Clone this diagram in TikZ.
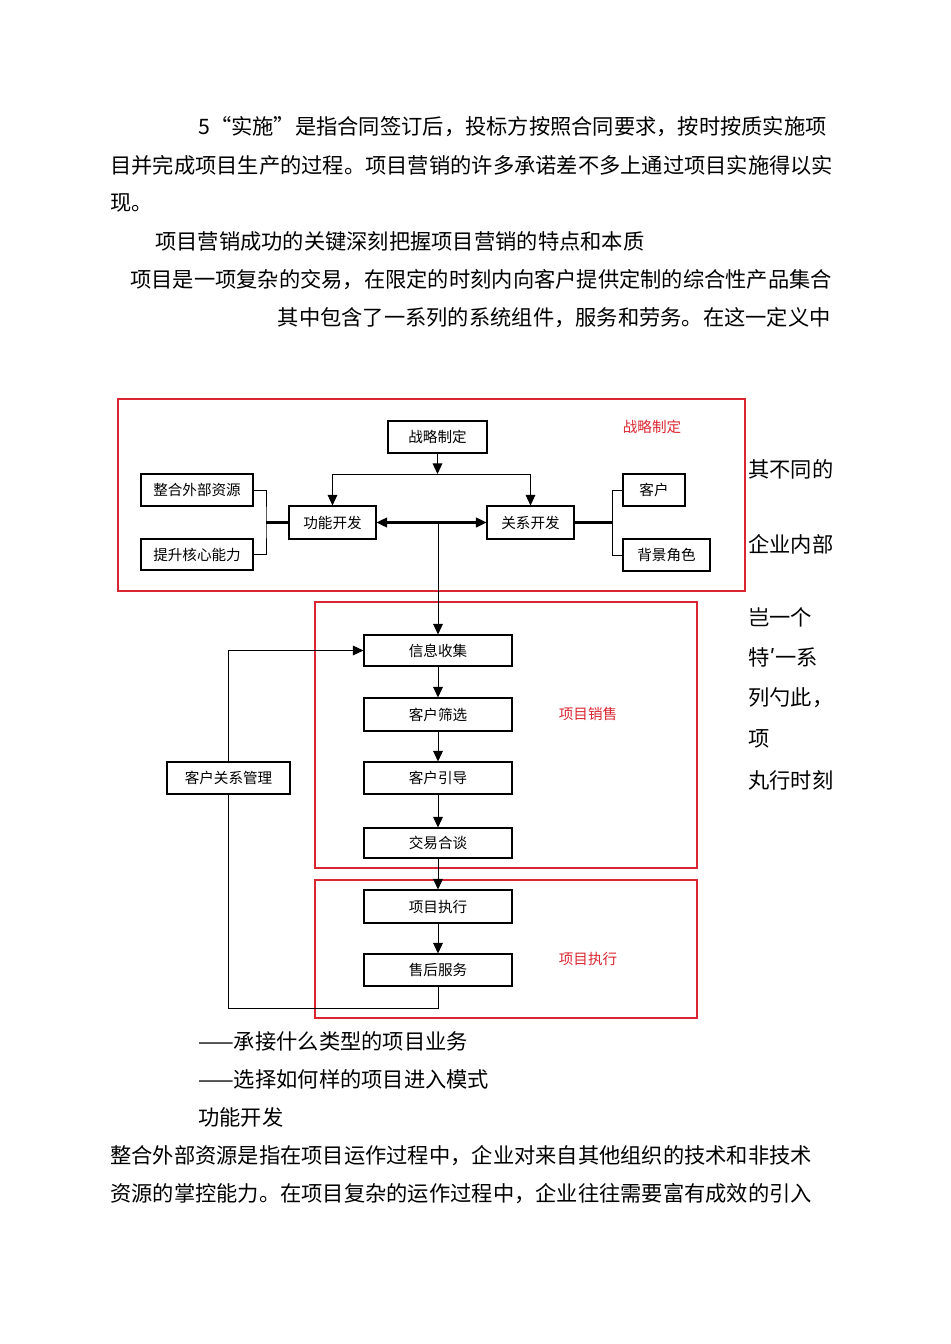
\documentclass[tikz,border=0pt]{standalone}
\usepackage{fontspec}
\setmainfont{Noto Sans CJK SC}
\newfontfamily\tickfont{DejaVu Sans}
\usetikzlibrary{arrows.meta}
\usetikzlibrary{shadows}
\newcommand*{\px}{0.02cm}
\definecolor{framered}{RGB}{218,38,48}
\tikzset{
    body/.style={anchor=west, inner sep=0pt, font=\fontsize{12.1}{14}\selectfont},
    stepbox/.style 2 args={draw, line width=0.6pt, fill=white, inner sep=0pt,
        minimum width=#1*\px, minimum height=#2*\px,
        drop shadow={shadow xshift=0.5pt, shadow yshift=-0.5pt, fill=black, opacity=1},
        font=\fontsize{8.3}{10}\selectfont},
    frame/.style={draw=framered, line width=0.6pt},
    tag/.style={text=framered, inner sep=0pt, font=\fontsize{8.3}{10}\selectfont},
    link/.style={line width=0.5pt},
    flow/.style={line width=0.5pt, -{Triangle[length=6pt,width=5.5pt]}},
}

\begin{document}
\begin{tikzpicture}[x=\px, y=-\px]
    \useasboundingbox (0,0) rectangle (950,1344);
    % text above
    \node [body] (p1) at (198,127) {5“实施”是指合同签订后，投标方按照合同要求，按时按质实施项};
    \node [body] (p2) at (110,165) {目并完成项目生产的过程。项目营销的许多承诺差不多上通过项目实施得以实};
    \node [body] (p3) at (110,203) {现。};
    \node [body] (p4) at (155,241) {项目营销成功的关键深刻把握项目营销的特点和本质};
    \node [body] (p5) at (130,280) {项目是一项复杂的交易，在限定的时刻内向客户提供定制的综合性产品集合};
    \node [body, anchor=east] (p6) at (831,318) {其中包含了一系列的系统组件，服务和劳务。在这一定义中};
    % red frames
    \draw [frame] (118,399) rectangle (745,591);
    \draw [frame] (315,602) rectangle (697,868);
    \draw [frame] (315,880) rectangle (697,1018);
    \node [tag] (tag1) at (652,427) {战略制定};
    \node [tag] (tag2) at (588,714) {项目销售};
    \node [tag] (tag3) at (588,959) {项目执行};
    % strategy part
    \node [stepbox={99}{32}]  (zhanlue)  at (437.5,437) {战略制定};
    \node [stepbox={87}{33}]  (gongneng) at (332.5,522.5) {功能开发};
    \node [stepbox={87}{33}]  (guanxi)   at (530.5,522.5) {关系开发};
    \node [stepbox={112}{32}] (zhenghe)  at (197,490) {整合外部资源};
    \node [stepbox={112}{31}] (tisheng)  at (197,554.5) {提升核心能力};
    \node [stepbox={62}{32}]  (kehu)     at (654,490) {客户};
    \node [stepbox={87}{32}]  (beijing)  at (666.5,555) {背景角色};
    \coordinate (fork) at (437.5,474);
    \coordinate (lj) at (266,522.5);
    \coordinate (rj) at (612,522.5);
    \draw [flow] (zhanlue.south) -- (fork);
    \draw [link] (gongneng.north |- fork) -- (guanxi.north |- fork);
    \draw [flow] (gongneng.north |- fork) -- (gongneng.north);
    \draw [flow] (guanxi.north |- fork) -- (guanxi.north);
    \draw [link] (zhenghe.east) -| (lj) |- (tisheng.east);
    \draw [link] (kehu.west) -| (rj) |- (beijing.west);
    \draw [line width=1.2pt] (lj) -- (gongneng.west);
    \draw [line width=1.2pt] (guanxi.east) -- (rj);
    \draw [line width=1.2pt, {Triangle[length=6pt,width=5.5pt]}-{Triangle[length=6pt,width=5.5pt]}] (gongneng.east) -- (guanxi.west);
    % sales and execution
    \node [stepbox={148}{31}] (xinxi)    at (438,650.5) {信息收集};
    \node [stepbox={148}{33}] (shaixuan) at (438,714.5) {客户筛选};
    \node [stepbox={148}{32}] (yindao)   at (438,778) {客户引导};
    \node [stepbox={148}{30}] (tanpan)   at (438,843) {交易合谈};
    \node [stepbox={148}{33}] (zhixing)  at (438,906.5) {项目执行};
    \node [stepbox={148}{32}] (shouhou)  at (438,970) {售后服务};
    \node [stepbox={123}{32}] (crm)      at (228.5,778) {客户关系管理};
    \coordinate (hub) at (xinxi.north |- gongneng.east);
    \coordinate (loopb) at (438,1008);
    \draw [flow] (hub) -- (xinxi.north);
    \draw [flow] (xinxi.south) -- (shaixuan.north);
    \draw [flow] (shaixuan.south) -- (yindao.north);
    \draw [flow] (yindao.south) -- (tanpan.north);
    \draw [flow] (tanpan.south) -- (zhixing.north);
    \draw [flow] (zhixing.south) -- (shouhou.north);
    \draw [link] (shouhou.south) -- (loopb) -| (crm.south);
    \draw [flow] (crm.north) |- (xinxi.west);
    % text at the side
    \node [body] (s1) at (748,469) {其不同的};
    \node [body] (s2) at (748,544) {企业内部};
    \node [body] (s3) at (748,617) {岂一个};
    \node [body] (s4) at (748,657) {特{\tickfont ʹ}一系};
    \node [body] (s5) at (748,698) {列勺此，};
    \node [body] (s6) at (748,739) {项};
    \node [body] (s7) at (748,780) {丸行时刻};
    % text below
    \node [body] (q1) at (198,1041) {——承接什么类型的项目业务};
    \node [body] (q2) at (198,1079) {——选择如何样的项目进入模式};
    \node [body] (q3) at (198,1117) {功能开发};
    \node [body] (q4) at (110,1156) {整合外部资源是指在项目运作过程中，企业对来自其他组织的技术和非技术};
    \node [body] (q5) at (110,1194) {资源的掌控能力。在项目复杂的运作过程中，企业往往需要富有成效的引入};
\end{tikzpicture}
\end{document}
